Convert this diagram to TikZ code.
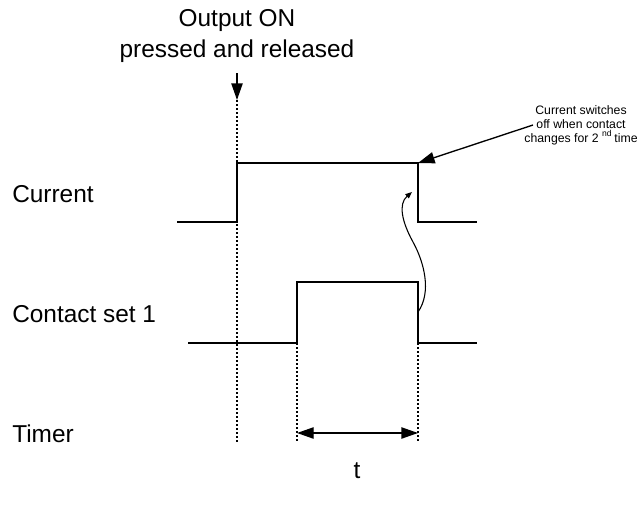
\documentclass[tikz,border=0pt]{standalone}
\usepackage{fontspec}
\setmainfont{Liberation Sans}
\usetikzlibrary{positioning, arrows.meta, calc}

\begin{document}
\begin{tikzpicture}[x=0.75pt, y=-0.75pt,
    signal/.style={line width=1pt},
    marker/.style={line width=0.8pt, dash pattern=on 1.5pt off 1.5pt},
    label/.style={font=\fontsize{18.3}{22.5}\selectfont, inner sep=0pt},
    note/.style={font=\fontsize{9.2}{10.2}\selectfont, inner sep=0pt, align=center},
    big tip/.style={-{Triangle[length=12.5pt, width=8.5pt]}},
    both tips/.style={{Triangle[length=12.5pt, width=8.5pt]}-{Triangle[length=12.5pt, width=8.5pt]}}
]
    \useasboundingbox (0,0) rectangle (641,510);
    \node[label, align=center, anchor=base] (title) at (237,57) {Output ON\\pressed and released};
    \node[label, anchor=base west] (current) at (12,202) {Current};
    \node[label, anchor=base west] (contact) at (12,322) {Contact set 1};
    \node[label, anchor=base west] (timer) at (12,442) {Timer};
    \node[label, anchor=base] (tlabel) at (357,478) {t};
    \node[note, anchor=base] (note) at (581,142) {Current switches\\off when contact\\changes for 2 \textsuperscript{nd}\,time};
    \coordinate (push) at (237,100);
    \coordinate (on) at (237,163);
    \coordinate (off) at (418,163);
    \coordinate (make) at (297,282);
    \coordinate (break) at (418,282);
    \coordinate (t0) at (297,433);
    \coordinate (t1) at (418,433);
    \draw[signal] (177,222) -| (on) -- (off) |- (477,222);
    \draw[signal] (188,343) -| (make) -- (break) |- (477,343);
    \draw[signal, big tip] (237,73) -- (push);
    \draw[marker] (push) -- (237,443);
    \draw[marker] (make |- 0,343) -- (297,443);
    \draw[marker] (break |- 0,343) -- (418,443);
    \draw[signal, both tips] (t0) -- (t1);
    \draw[signal, big tip] (533,125) -- (off);
    \draw[line width=0.8pt, -{Triangle[length=5pt, width=4pt]}] (418,312) .. controls (432,292) and (424,262) .. (413,242) .. controls (402,222) and (398,204) .. (412,192);
\end{tikzpicture}
\end{document}
